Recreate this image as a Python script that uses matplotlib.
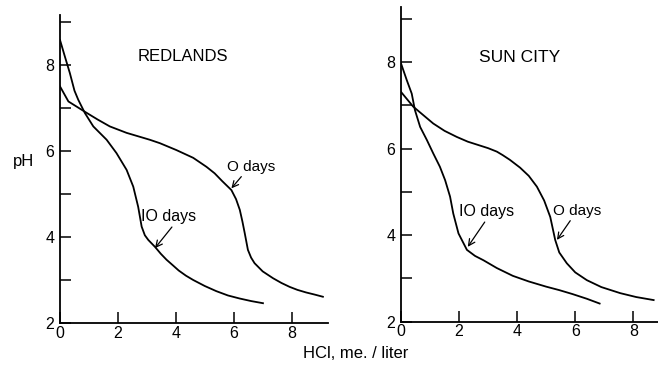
import matplotlib.pyplot as plt
from matplotlib.ticker import MultipleLocator

plt.rcParams['font.family'] = ['Liberation Sans', 'DejaVu Sans']

# Titration curves, HCl added (me./liter) vs pH
red_0d_x = [0.0, 0.29, 0.86, 1.3, 1.72, 2.3, 3.1, 3.45, 4.02, 4.6, 5.06, 5.34, 5.6, 5.92, 6.08,
            6.21, 6.3, 6.38, 6.49, 6.6, 6.72, 7.0, 7.36, 7.65, 7.93, 8.2, 8.5, 8.8, 9.08]
red_0d_y = [7.5, 7.15, 6.91, 6.73, 6.57, 6.42, 6.26, 6.18, 6.02, 5.84, 5.63, 5.48, 5.3, 5.09, 4.88,
            4.63, 4.36, 4.09, 3.70, 3.52, 3.39, 3.2, 3.04, 2.93, 2.84, 2.77, 2.71, 2.66, 2.61]
red_10d_x = [0.0, 0.17, 0.34, 0.5, 0.63, 0.86, 1.15, 1.61, 1.95, 2.3, 2.53, 2.7, 2.82, 2.93, 3.05,
             3.28, 3.48, 3.68, 3.9, 4.1, 4.35, 4.6, 5.0, 5.4, 5.8, 6.2, 6.6, 7.01]
red_10d_y = [8.58, 8.19, 7.81, 7.4, 7.19, 6.88, 6.57, 6.26, 5.95, 5.56, 5.17, 4.7, 4.24, 4.04, 3.93,
             3.77, 3.61, 3.47, 3.34, 3.22, 3.1, 3.0, 2.86, 2.74, 2.64, 2.57, 2.51, 2.46]
sun_0d_x = [0.0, 0.42, 1.11, 1.5, 1.92, 2.3, 2.72, 3.0, 3.3, 3.5, 3.75, 4.1, 4.4, 4.68, 4.93, 5.14,
            5.31, 5.45, 5.71, 6.0, 6.4, 6.9, 7.55, 8.1, 8.7]
sun_0d_y = [7.31, 6.97, 6.58, 6.41, 6.27, 6.16, 6.07, 6.01, 5.93, 5.85, 5.74, 5.56, 5.37, 5.12, 4.8,
            4.42, 3.89, 3.6, 3.35, 3.14, 2.96, 2.8, 2.66, 2.57, 2.5]
sun_10d_x = [0.0, 0.2, 0.37, 0.48, 0.66, 0.89, 1.11, 1.34, 1.52, 1.69, 1.8, 1.98, 2.27, 2.55, 2.84,
             3.3, 3.85, 4.4, 5.0, 5.45, 5.9, 6.4, 6.84]
sun_10d_y = [7.97, 7.58, 7.27, 6.89, 6.5, 6.2, 5.89, 5.58, 5.27, 4.89, 4.5, 4.04, 3.66, 3.52, 3.42,
             3.24, 3.06, 2.93, 2.81, 2.73, 2.64, 2.53, 2.42]

fig = plt.figure(figsize=(6.58, 3.66), dpi=100)
ax1 = fig.add_axes([0.0912, 0.1175, 0.407, 0.8415])
ax2 = fig.add_axes([0.6094, 0.1210, 0.3906, 0.8597])

panels = [
    (ax1, red_0d_x, red_0d_y, red_10d_x, red_10d_y, (0, 9.25), (2, 9.16)),
    (ax2, sun_0d_x, sun_0d_y, sun_10d_x, sun_10d_y, (0, 8.85), (2, 9.27)),
]
for ax, x0, y0, x10, y10, xl, yl in panels:
    ax.plot(x0, y0, color='black', lw=1.3, solid_joinstyle='round')
    ax.plot(x10, y10, color='black', lw=1.3, solid_joinstyle='round')
    ax.set_xlim(*xl)
    ax.set_ylim(*yl)
    for s in ('top', 'right'):
        ax.spines[s].set_visible(False)
    for s in ('left', 'bottom'):
        ax.spines[s].set_linewidth(1.3)
    ax.yaxis.set_minor_locator(MultipleLocator(1))
    ax.tick_params(which='both', direction='in', length=8, width=1.1, labelsize=11.5, pad=4)
    ax.tick_params(axis='x', which='both', pad=2)
    ax.set_xticks([0, 2, 4, 6, 8])
    ax.set_yticks([2, 4, 6, 8])

arrow = dict(arrowstyle='->', color='black', lw=0.9, shrinkA=0, shrinkB=0)

ax1.text(4.24, 8.19, 'REDLANDS', ha='center', va='center', fontsize=12)
ax1.annotate('O days', xy=(5.92, 5.13), xytext=(5.76, 5.63), fontsize=11,
             va='center', arrowprops=dict(arrow, relpos=(0.35, 0.0)))
ax1.annotate('IO days', xy=(3.28, 3.74), xytext=(2.8, 4.47), fontsize=11.5,
             va='center', arrowprops=dict(arrow, relpos=(0.6, 0.0)))

ax2.text(4.07, 8.11, 'SUN CITY', ha='center', va='center', fontsize=12.5)
ax2.annotate('IO days', xy=(2.3, 3.73), xytext=(2.0, 4.54), fontsize=11.5,
             va='center', arrowprops=dict(arrow, relpos=(0.5, 0.0)))
ax2.annotate('O days', xy=(5.37, 3.89), xytext=(5.23, 4.56), fontsize=11,
             va='center', arrowprops=dict(arrow, relpos=(0.4, 0.0)))

ax1.set_ylabel('pH', fontsize=12, rotation=0)
ax1.yaxis.set_label_coords(-0.135, 0.5)
fig.text(356 / 658, 1 - 353 / 366, 'HCl, me. / liter', ha='center', va='center', fontsize=12)

fig.savefig('out.png', dpi=100, facecolor='white')
